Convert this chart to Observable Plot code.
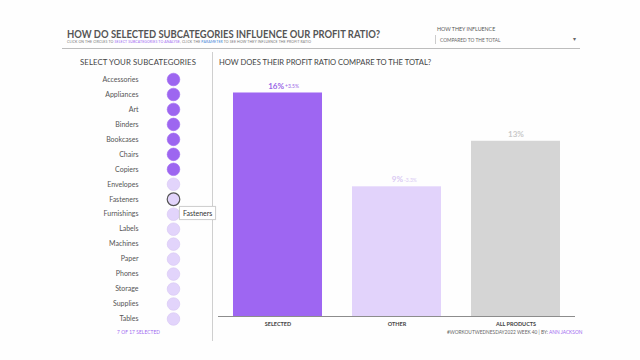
<!DOCTYPE html>
<html>
<head>
<meta charset="utf-8">
<script src="https://cdn.jsdelivr.net/npm/d3@7"></script>
<script src="https://cdn.jsdelivr.net/npm/@observablehq/plot@0.6"></script>
<style>
  html, body { margin: 0; padding: 0; background: #fefefe; }
  body { width: 640px; height: 360px; position: relative; overflow: hidden; font-family: Lato, "Open Sans", sans-serif; color: #555; }
  .abs { position: absolute; white-space: nowrap; }
  #title { left: 67px; top: 26px; font-size: 12px; font-weight: 700; color: #555; transform: scaleX(0.785); transform-origin: left top; }
  #subtitle { left: 67px; top: 40px; font-size: 3.5px; color: #777; letter-spacing: 0.12px; }
  #subtitle .p { color: #9d66f0; }
  #subtitle .b { color: #3d7fd6; }
  #rule { left: 62px; top: 48px; width: 518px; height: 0; border-top: 1.5px solid #bdbdbd; }
  #infl { left: 437px; top: 26px; font-size: 5.3px; color: #555; }
  #dropdown { left: 435px; top: 35px; width: 143px; height: 9px; border-left: 1px solid #ccc; }
  #dropdown span { position: absolute; left: 4px; top: 1.5px; font-size: 4.8px; color: #666; }
  #dropdown i { position: absolute; right: 3px; top: 0px; font-size: 6px; font-style: normal; color: #666; }
  #divider { left: 212px; top: 52px; width: 0; height: 289px; border-left: 1.2px solid #cfcfcf; }
  #lefthead { left: 80px; top: 57px; font-size: 7.8px; color: #444; letter-spacing: 0.1px; }
  #righthead { left: 219px; top: 57px; font-size: 7.6px; color: #444; }
  #count { left: 117px; top: 329px; font-size: 4.8px; color: #9d66f0; letter-spacing: 0.1px; }
  #footer { left: 447px; top: 329px; font-size: 4.8px; color: #666; }
  #footer .p { color: #9d66f0; }
  #tooltip { left: 179px; top: 206px; padding: 2px 3px; background: #fff; border: 1px solid #d0d0d0; font-size: 7px; color: #333; box-shadow: 0 0 1px rgba(0,0,0,0.1); }
  #list { left: 60px; top: 70px; }
  #bars { left: 212px; top: 70px; }
  svg { overflow: visible; display: block; }
</style>
</head>
<body>
<div class="abs" id="title">HOW DO SELECTED SUBCATEGORIES INFLUENCE OUR PROFIT RATIO?</div>
<div class="abs" id="subtitle">CLICK ON THE CIRCLES TO <span class="p">SELECT SUBCATEGORIES TO ANALYSE</span>, CLICK THE <span class="b">PARAMETER</span> TO SEE HOW THEY INFLUENCE THE PROFIT RATIO</div>
<div class="abs" id="rule"></div>
<div class="abs" id="infl">HOW THEY INFLUENCE</div>
<div class="abs" id="dropdown"><span>COMPARED TO THE TOTAL</span><i>&#9662;</i></div>
<div class="abs" id="divider"></div>
<div class="abs" id="lefthead">SELECT YOUR SUBCATEGORIES</div>
<div class="abs" id="righthead">HOW DOES THEIR PROFIT RATIO COMPARE TO THE TOTAL?</div>
<div class="abs" id="list"></div>
<div class="abs" id="bars"></div>
<div class="abs" id="count">7 OF 17 SELECTED</div>
<div class="abs" id="footer">#WORKOUTWEDNESDAY2022 WEEK 40 | BY: <span class="p">ANN JACKSON</span></div>
<div class="abs" id="tooltip">Fasteners</div>
<script>
// ---- data ----
const subcategories = ["Accessories","Appliances","Art","Binders","Bookcases","Chairs","Copiers","Envelopes","Fasteners","Furnishings","Labels","Machines","Paper","Phones","Storage","Supplies","Tables"];
const selectedSubcategories = ["Accessories","Appliances","Art","Binders","Bookcases","Chairs","Copiers"];
const hoveredSubcategory = "Fasteners";

const groups = ["SELECTED","OTHER","ALL PRODUCTS"];
const profitRatios = [16.2, 9.4, 12.7];
const ratioLabels = ["16%","9%","13%"];
const deltaLabels = ["+3.5%","-3.3%",""];

const groupFill = ["#9e66f2","#e2d3fb","#d5d5d5"];
const labelFill = ["#9a66e6","#d9c9f3","#c9c9c9"];

// ---- subcategory list ----
const listData = subcategories.map(s => ({name: s, selected: selectedSubcategories.includes(s), hovered: s === hoveredSubcategory}));

const listPlot = Plot.plot({
  width: 150,
  height: 258,
  marginTop: 0, marginBottom: 0, marginLeft: 0, marginRight: 37,
  style: {background: "transparent", fontFamily: "Lato, 'Open Sans', sans-serif"},
  y: {type: "point", domain: subcategories, range: [9, 248.5], padding: 0, round: false, axis: null},
  marks: [
    Plot.dot(listData, {y: "name", frameAnchor: "right", r: 6.3,
      fill: d => d.selected ? "#9d66f0" : "#e2d4fb",
      stroke: d => d.hovered ? "#555" : (d.selected ? "#9d66f0" : "#d6c6f3"),
      strokeWidth: d => d.hovered ? 1.2 : 0.6}),
    Plot.text(listData, {y: "name", text: "name", frameAnchor: "right", dx: -35, textAnchor: "end",
      fontSize: 7, fill: "#555"})
  ]
});
document.getElementById("list").appendChild(listPlot);

// ---- bar chart ----
const barData = groups.map((g, i) => ({group: g, value: profitRatios[i], label: ratioLabels[i], delta: deltaLabels[i], fill: groupFill[i], lfill: labelFill[i]}));
const withDelta = barData.filter(d => d.delta !== "");
const noDelta = barData.filter(d => d.delta === "");

const barPlot = Plot.plot({
  width: 370,
  height: 270,
  marginTop: 0, marginBottom: 24, marginLeft: 6, marginRight: 7,
  style: {background: "transparent", fontFamily: "Lato, 'Open Sans', sans-serif", color: "#444"},
  x: {domain: groups, paddingInner: 0.252, paddingOuter: 0.126, round: false, label: null},
  y: {domain: [0, 17.83], axis: null},
  marks: [
    Plot.barY(barData, {x: "group", y: "value", fill: "fill"}),
    Plot.ruleY([0], {stroke: "#8c8c8c", strokeWidth: 1}),
    Plot.axisX({tickSize: 0, tickPadding: 6, fontSize: 5.5, fontWeight: "bold", letterSpacing: 0.5, fill: "#444", label: null}),
    Plot.text(withDelta, {x: "group", y: "value", text: "label", fill: "lfill", dy: -7, dx: 6, textAnchor: "end", fontSize: 8, fontWeight: "bold"}),
    Plot.text(withDelta, {x: "group", y: "value", text: "delta", fill: "lfill", dy: -6.5, dx: 7, textAnchor: "start", fontSize: 5}),
    Plot.text(noDelta, {x: "group", y: "value", text: "label", fill: "lfill", dy: -7, fontSize: 8, fontWeight: "bold"})
  ]
});
document.getElementById("bars").appendChild(barPlot);
</script>
</body>
</html>
